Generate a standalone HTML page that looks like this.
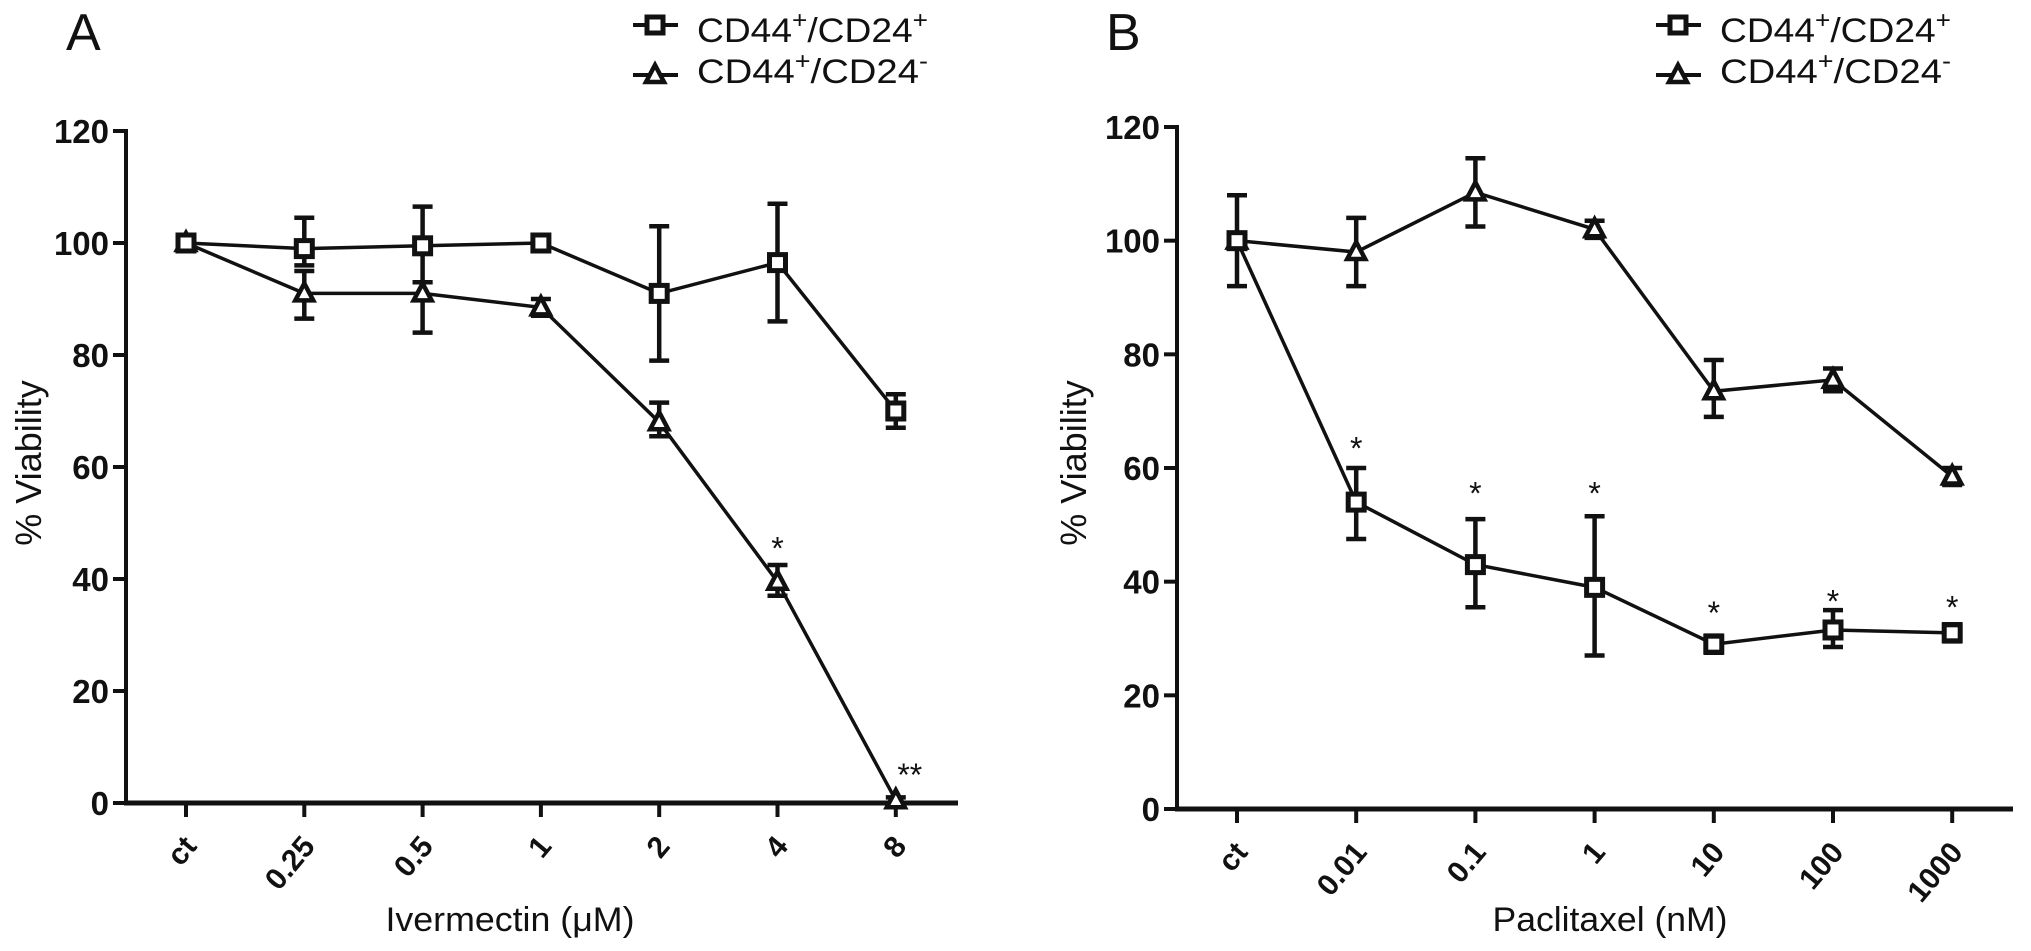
<!DOCTYPE html>
<html><head><meta charset="utf-8"><style>
html,body{margin:0;padding:0;background:#fff;}
svg{display:block;}
text{font-family:"Liberation Sans",Arial,sans-serif;fill:#111;}
</style></head><body>
<svg id="fig" width="2031" height="951" viewBox="0 0 2031 951" xmlns="http://www.w3.org/2000/svg"></svg>
<script>
// ---- Panel A data ----
const catsA = ["ct","0.25","0.5","1","2","4","8"];
const sqA = [100, 99, 99.5, 100, 91, 96.5, 70];
const sqAlo = [99, 96, 93, 99, 79, 86, 67];
const sqAhi = [101, 104.5, 106.5, 101, 103, 107, 73];
const triA = [100, 91, 91, 88.5, 68, 39.5, 0.5];
const triAlo = [99, 86.5, 84, 87, 65.5, 37, 0];
const triAhi = [101, 95, 93, 90, 71.5, 42.5, 1];
const starsA = ["", "", "", "", "", "*", "**"];
const starYA = [0, 0, 0, 0, 0, 46, 5.5];
// ---- Panel B data ----
const catsB = ["ct","0.01","0.1","1","10","100","1000"];
const sqB = [100, 54, 43, 39, 29, 31.5, 31];
const sqBlo = [92, 47.5, 35.5, 27, 27.5, 28.5, 29.5];
const sqBhi = [108, 60, 51, 51.5, 30.5, 35, 32.5];
const triB = [100, 98, 108.5, 102, 73.5, 75.5, 58.5];
const triBlo = [99, 92, 102.5, 100.5, 69, 73.5, 57];
const triBhi = [101, 104, 114.5, 103.5, 79, 77.5, 60];
const starsB = ["", "*", "*", "*", "*", "*", "*"];
const starYB = [0, 64, 56, 56, 35, 37, 36];
const yTicks = [0, 20, 40, 60, 80, 100, 120];

const NS = "http://www.w3.org/2000/svg";
const svg = document.getElementById("fig");
function el(tag, attrs, parent){
  const e = document.createElementNS(NS, tag);
  for (const k in attrs) e.setAttribute(k, attrs[k]);
  (parent||svg).appendChild(e);
  return e;
}

function panel(cfg){
  const g = el("g", {});
  
  
  const yS = v => cfg.y0 - (v/120)*(cfg.y0 - cfg.y120);
  const xS = i => cfg.x0 + i*cfg.dx;
  const ya = el("line", {x1:cfg.ax, y1:cfg.y120-2, x2:cfg.ax, y2:cfg.y0+2, stroke:"#111","stroke-width":4}, g);
  
  
  const xa = el("line", {x1:cfg.ax-2, y1:cfg.y0, x2:cfg.xend, y2:cfg.y0, stroke:"#111","stroke-width":5}, g);
  
  
  yTicks.forEach(v => {
    el("line", {x1:cfg.ax-13, y1:yS(v), x2:cfg.ax, y2:yS(v), stroke:"#111","stroke-width":4}, g);
    const t = el("text", {x:cfg.ax-17, y:yS(v)+12, "text-anchor":"end","font-size":33,"font-weight":"bold"}, g);
    t.textContent = v;
    
    
  });
  cfg.cats.forEach((c, i) => {
    el("line", {x1:xS(i), y1:cfg.y0, x2:xS(i), y2:cfg.y0+14, stroke:"#111","stroke-width":4}, g);
    const tx = xS(i)+12, ty = cfg.y0+44;
    const t = el("text", {x:tx, y:ty, "text-anchor":"end","font-size":30,"font-weight":"bold",
      transform:`rotate(-50 ${tx} ${ty})`}, g);
    t.textContent = c;
    
    
  });
  const mk = (vals) => vals.map((v,i)=>`${xS(i)},${yS(v)}`).join(" ");
  const l1 = el("polyline", {points:mk(cfg.tri), fill:"none", stroke:"#111","stroke-width":3.5}, g);
  
  
  const l2 = el("polyline", {points:mk(cfg.sq), fill:"none", stroke:"#111","stroke-width":3.5}, g);
  
  
  function err(lo, hi, name){
    lo.forEach((v,i) => {
      const x = xS(i), a = yS(lo[i]), b = yS(hi[i]);
      const e = el("path", {d:`M${x},${a}V${b}M${x-10},${a}H${x+10}M${x-10},${b}H${x+10}`, stroke:"#111","stroke-width":4.5, fill:"none"}, g);
      
      
    });
  }
  err(cfg.triLo, cfg.triHi, 'error-bar-cd24-neg');
  err(cfg.sqLo, cfg.sqHi, 'error-bar-cd24-pos');
  cfg.tri.forEach((v,i) => {
    const x = xS(i), y = yS(v);
    const m = el("path", {d:`M${x},${y-10}L${x+9},${y+7}L${x-9},${y+7}Z`, fill:"#fff", stroke:"#111","stroke-width":4.5}, g);
    
    
  });
  cfg.sq.forEach((v,i) => {
    const x = xS(i), y = yS(v);
    const m = el("rect", {x:x-8, y:y-8, width:16, height:16, fill:"#fff", stroke:"#111","stroke-width":5}, g);
    
    
  });
  cfg.stars.forEach((s,i) => {
    if (!s) return;
    const t = el("text", {x:xS(i)+(s.length>1?14:0), y:yS(cfg.starY[i])+14, "text-anchor":"middle","font-size":32}, g);
    t.textContent = s;
    
    
  });
  const xt = el("text", {x:cfg.xtX, y:931, "text-anchor":"middle","font-size":34, textLength:cfg.xtW, lengthAdjust:"spacingAndGlyphs"}, g);
  xt.textContent = cfg.xtitle;
  
  
  const yx = cfg.ytX, yy = 463;
  const yt = el("text", {x:yx, y:yy, "text-anchor":"middle","font-size":36, transform:`rotate(-90 ${yx} ${yy})`}, g);
  yt.textContent = "% Viability";
  
  
  const pl = el("text", {x:cfg.lblX, y:50, "font-size":52}, g);
  pl.textContent = cfg.label;
  
  
  [["+","sq",25,42],["-","tri",75,83]].forEach(([sup, kind, ly, by]) => {
    const lg = el("g", {}, g);
    
    
    el("line", {x1:cfg.legX, y1:ly, x2:cfg.legX+45, y2:ly, stroke:"#111","stroke-width":4}, lg);
    const cx = cfg.legX+22;
    if (kind==="sq") el("rect", {x:cx-8, y:ly-8, width:16, height:16, fill:"#fff", stroke:"#111","stroke-width":5}, lg);
    else el("path", {d:`M${cx},${ly-10}L${cx+9},${ly+7}L${cx-9},${ly+7}Z`, fill:"#fff", stroke:"#111","stroke-width":4.5}, lg);
    const t = el("text", {x:cfg.legX+64, y:by, "font-size":34, textLength:231, lengthAdjust:"spacingAndGlyphs"}, lg);
    t.innerHTML = `CD44<tspan dy="-14" font-size="24">+</tspan><tspan dy="14">/CD24</tspan><tspan dy="-14" font-size="24">${sup==="-"?"-":"+"}</tspan>`;
  });
}

panel({name:"panel-a-ivermectin", cats:catsA, sq:sqA, sqLo:sqAlo, sqHi:sqAhi, tri:triA, triLo:triAlo, triHi:triAhi,
  stars:starsA, starY:starYA, ax:126, x0:186, dx:118.3, xend:958, y0:803, y120:131,
  xtitle:"Ivermectin (\u03bcM)", xtW:249, xtX:510, ytX:41, label:"A", lblX:66, legX:633});
panel({name:"panel-b-paclitaxel", cats:catsB, sq:sqB, sqLo:sqBlo, sqHi:sqBhi, tri:triB, triLo:triBlo, triHi:triBhi,
  stars:starsB, starY:starYB, ax:1177, x0:1237, dx:119.2, xend:2013, y0:809, y120:127,
  xtitle:"Paclitaxel (nM)", xtW:235, xtX:1610, ytX:1086, label:"B", lblX:1106, legX:1656});
</script>
</body></html>
